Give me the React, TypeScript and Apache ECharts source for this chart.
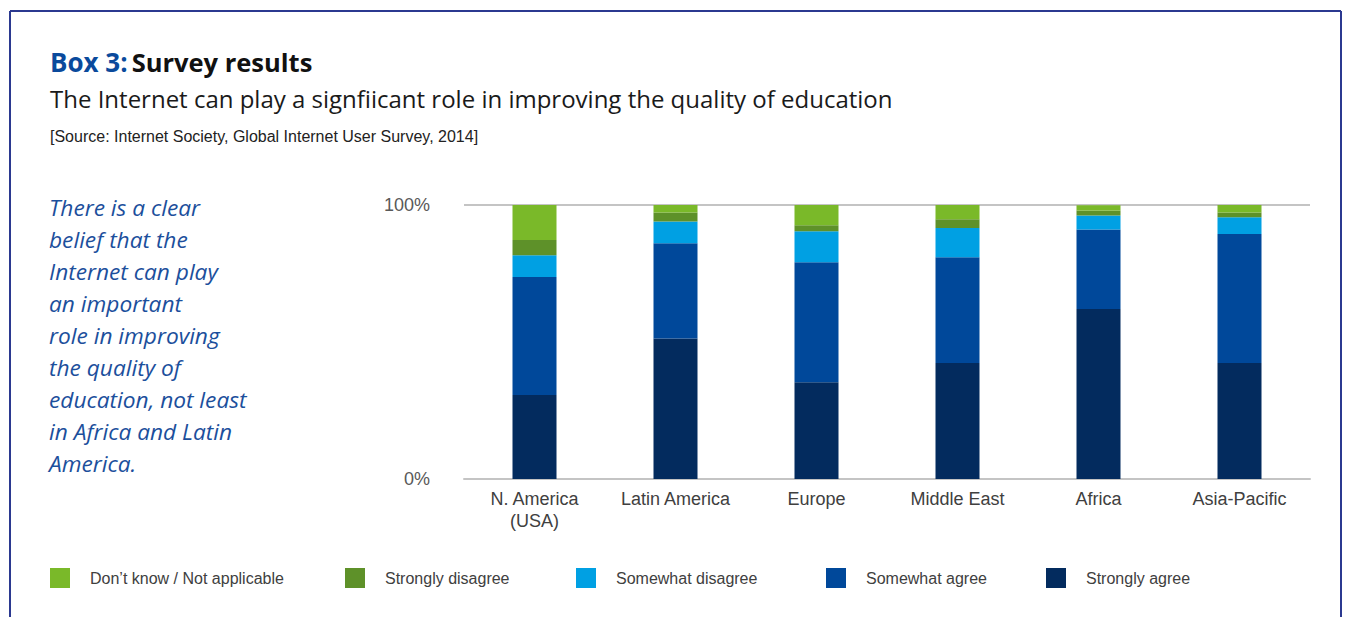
import React, { useEffect, useRef } from "react";
import * as echarts from "echarts";

const categories = ["N. America\n(USA)", "Latin America", "Europe", "Middle East", "Africa", "Asia-Pacific"];
const stronglyAgree = [30.7, 51.3, 35.3, 42.3, 62.0, 42.3];
const somewhatAgree = [43.0, 34.7, 43.8, 38.6, 29.1, 47.1];
const somewhatDisagree = [8.0, 8.0, 11.3, 10.7, 5.1, 6.1];
const stronglyDisagree = [5.5, 3.3, 2.2, 3.2, 1.8, 1.8];
const dontKnow = [12.9, 2.7, 7.4, 5.2, 1.9, 2.7];
const yTicks = [0, 100];

const seriesNames = ["Strongly agree", "Somewhat agree", "Somewhat disagree", "Strongly disagree", "Don\u2019t know / Not applicable"];
const seriesColors = ["#032b5e", "#00489a", "#00a0e3", "#5e9129", "#7ab929"];
const seriesData = [stronglyAgree, somewhatAgree, somewhatDisagree, stronglyDisagree, dontKnow];
const legendOrder = [4, 3, 2, 1, 0];
const legendLefts = [50, 345, 576, 826, 1046];

const paragraph = [
  "There is a clear",
  "belief that the",
  "Internet can play",
  "an important",
  "role in improving",
  "the quality of",
  "education, not least",
  "in Africa and Latin",
  "America.",
];

export default function App() {
  const ref = useRef<HTMLDivElement>(null);
  useEffect(() => {
    if (!ref.current) return;
    const chart = echarts.init(ref.current, undefined, { renderer: "svg" });
    const option: any = {
      animation: false,
      backgroundColor: "#ffffff",
      grid: { left: 464, right: 41, top: 205, bottom: 617 - 479, containLabel: false },
      xAxis: {
        type: "category",
        data: categories,
        axisLine: { show: true, lineStyle: { color: "#c4c4c4", width: 2 } },
        axisTick: { show: false },
        axisLabel: {
          color: "#404040",
          fontSize: 18,
          fontFamily: "Liberation Sans, Arial, sans-serif",
          lineHeight: 22,
          margin: 9,
          interval: 0,
        },
      },
      yAxis: {
        type: "value",
        min: yTicks[0],
        max: yTicks[1],
        interval: 100,
        axisLine: { show: false },
        axisTick: { show: false },
        splitLine: { show: true, lineStyle: { color: "#c4c4c4", width: 2 } },
        axisLabel: {
          formatter: "{value}%",
          color: "#595959",
          fontSize: 18,
          fontFamily: "Liberation Sans, Arial, sans-serif",
          margin: 34,
        },
      },
      legend: legendOrder.map((idx, i) => ({
        data: [seriesNames[idx]],
        left: legendLefts[i],
        top: 568,
        itemWidth: 20,
        itemHeight: 20,
        icon: "rect",
        padding: 0,
        textStyle: {
          color: "#404040",
          fontSize: 16,
          fontFamily: "Liberation Sans, Arial, sans-serif",
          padding: [0, 0, 0, 15],
        },
        selectedMode: false,
      })),
      series: seriesData.map((d, i) => ({
        name: seriesNames[i],
        type: "bar",
        stack: "total",
        barWidth: 44,
        data: d,
        itemStyle: { color: seriesColors[i] },
      })),
      graphic: [
        { type: "line", shape: { x1: 10, y1: 11, x2: 1341, y2: 11 }, style: { stroke: "#2b3990", lineWidth: 2 } },
        { type: "line", shape: { x1: 10, y1: 11, x2: 10, y2: 617 }, style: { stroke: "#2b3990", lineWidth: 2 } },
        { type: "line", shape: { x1: 1341, y1: 11, x2: 1341, y2: 617 }, style: { stroke: "#2b3990", lineWidth: 2 } },
        {
          type: "text",
          left: 50,
          top: 49,
          style: {
            text: "{a|Box 3:}{s| }{b|Survey results}",
            rich: {
              a: { fontSize: 26, fontWeight: "bold", fontFamily: "Open Sans, sans-serif", fill: "#0a4a9c" },
              s: { fontSize: 26, width: 4, fontFamily: "Open Sans, sans-serif" },
              b: { fontSize: 25.5, fontWeight: "bold", fontFamily: "Open Sans, sans-serif", fill: "#111111" },
            },
          },
        },
        {
          type: "text",
          left: 50,
          top: 86,
          style: {
            text: "The Internet can play a signfiicant role in improving the quality of education",
            fontSize: 24,
            fontFamily: "Open Sans, sans-serif",
            fill: "#1a1a1a",
          },
        },
        {
          type: "text",
          left: 50,
          top: 128,
          style: {
            text: "[Source: Internet Society, Global Internet User Survey, 2014]",
            fontSize: 16,
            fontFamily: "Liberation Sans, Arial, sans-serif",
            fill: "#222222",
          },
        },
        {
          type: "text",
          left: 49,
          top: 191,
          style: {
            text: paragraph.join("\n"),
            fontSize: 22.7,
            fontStyle: "italic",
            fontFamily: "Open Sans, sans-serif",
            lineHeight: 32,
            fill: "#1c4f9c",
          },
        },
      ],
    };
    chart.setOption(option);
    return () => chart.dispose();
  }, []);
  return (
    <div
      ref={ref}
      style={{ position: "fixed", left: 0, top: 0, width: 1351, height: 617 }}
    />
  );
}
